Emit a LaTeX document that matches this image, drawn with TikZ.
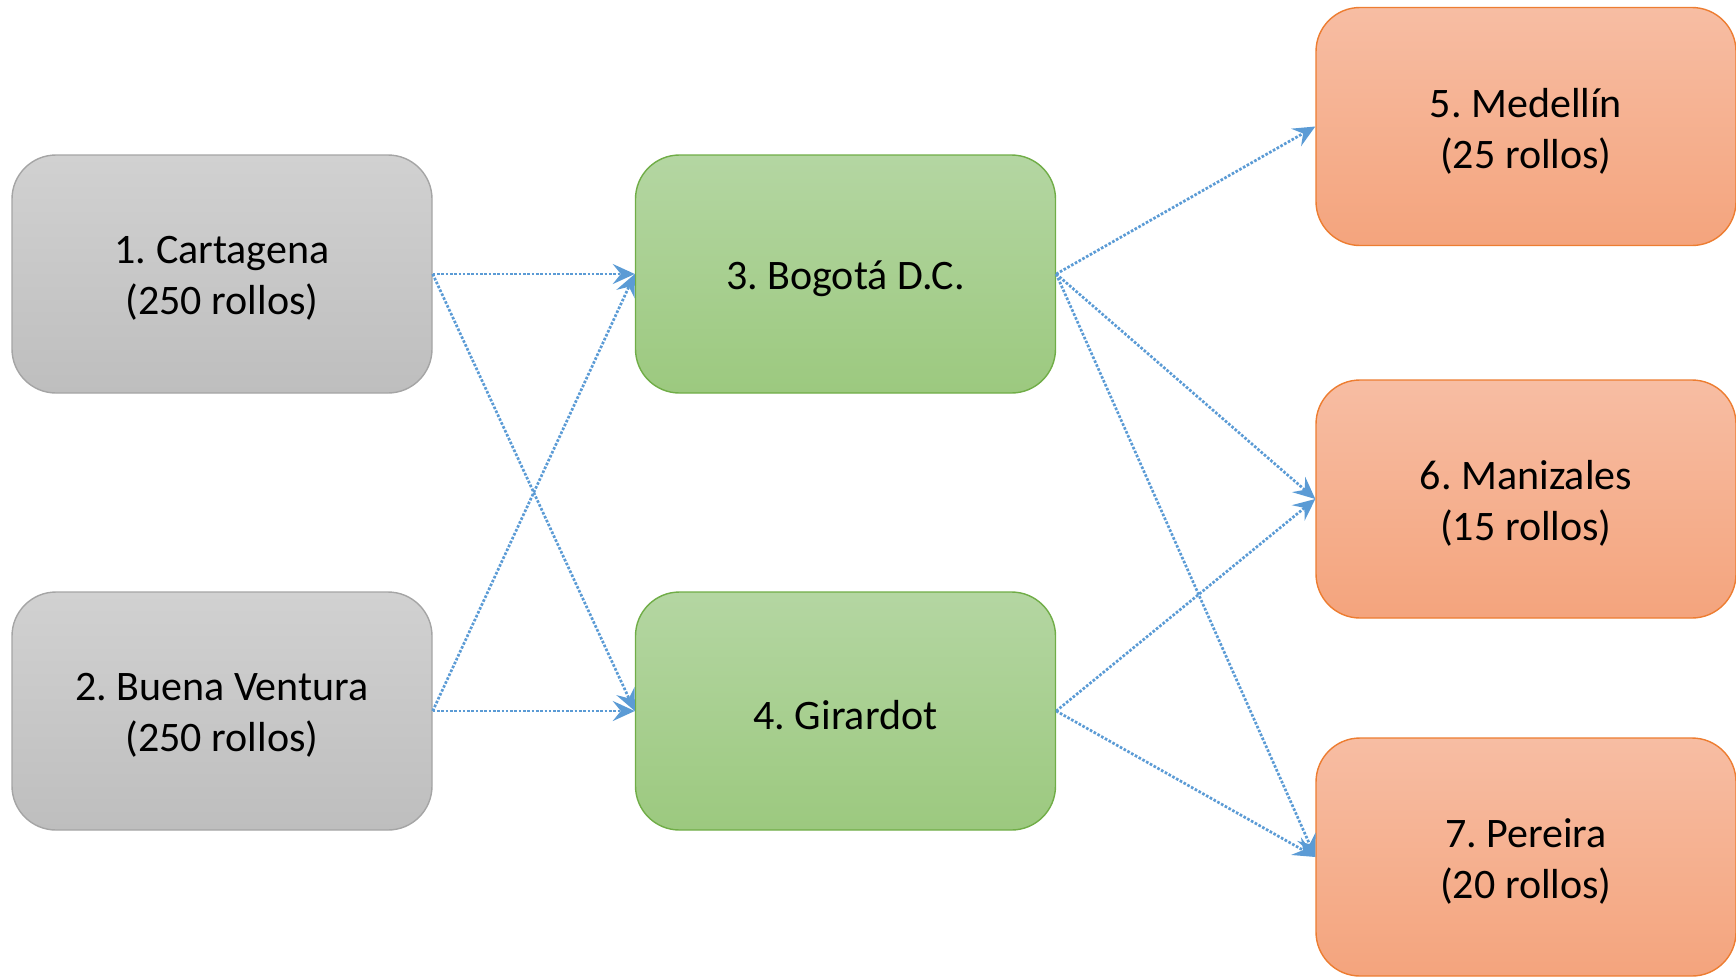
\documentclass[tikz,border=0pt]{standalone}
\usepackage{fontspec}
\setmainfont{Carlito}
\frenchspacing
\usetikzlibrary{arrows.meta}
\definecolor{grayT}{HTML}{D1D1D1}
\definecolor{grayB}{HTML}{BEBEBE}
\definecolor{grayD}{HTML}{A5A5A5}
\definecolor{greenT}{HTML}{B4D6A2}
\definecolor{greenB}{HTML}{9CC97F}
\definecolor{greenD}{HTML}{70AD47}
\definecolor{orT}{HTML}{F7BDA3}
\definecolor{orB}{HTML}{F4A47D}
\definecolor{orD}{HTML}{ED7D31}
\definecolor{arr}{HTML}{5B9BD5}
\tikzset{
  box/.style={rectangle, rounded corners=22pt, minimum width=210pt, minimum height=119pt,
    inner sep=0pt, line width=0.7pt},
  txt/.style={align=center, inner sep=0pt, yshift=-2.2pt,
    font=\fontsize{21}{25.5}\selectfont, text=black},
  graybox/.style={box, draw=grayD, top color=grayT, bottom color=grayB},
  greenbox/.style={box, draw=greenD, top color=greenT, bottom color=greenB},
  orbox/.style={box, draw=orD, top color=orT, bottom color=orB},
  link/.style={draw=arr, line width=1.35pt, dash pattern=on 1.3pt off 0.85pt,
    -{Stealth[length=11pt, width=10pt, inset=4pt]}}
}
\begin{document}
\begin{tikzpicture}[x=0.5pt, y=-0.5pt]
\useasboundingbox (0,0) rectangle (1736,976);
\clip (0,0) rectangle (1736,976);
\node[graybox, label={[txt]center:{1. Cartagena\\(250 rollos)}}] (n1) at (222,274) {};
\node[graybox, label={[txt]center:{2. Buena Ventura\\(250 rollos)}}] (n2) at (222,711) {};
\node[greenbox, label={[txt]center:{3. Bogotá D.C.}}] (n3) at (845.5,274) {};
\node[greenbox, label={[txt]center:{4. Girardot}}] (n4) at (845.5,711) {};
\node[orbox, label={[txt]center:{5. Medellín\\(25 rollos)}}] (n5) at (1526,126.5) {};
\node[orbox, label={[txt]center:{6. Manizales\\(15 rollos)}}] (n6) at (1526,499) {};
\node[orbox, label={[txt]center:{7. Pereira\\(20 rollos)}}] (n7) at (1526,857) {};
\draw[link] (n1.east) -- (n3.west);
\draw[link] (n1.east) -- (n4.west);
\draw[link] (n2.east) -- (n3.west);
\draw[link] (n2.east) -- (n4.west);
\draw[link] (n3.east) -- (n5.west);
\draw[link] (n3.east) -- (n6.west);
\draw[link] (n3.east) -- (n7.west);
\draw[link] (n4.east) -- (n6.west);
\draw[link] (n4.east) -- (n7.west);
\end{tikzpicture}
\end{document}
